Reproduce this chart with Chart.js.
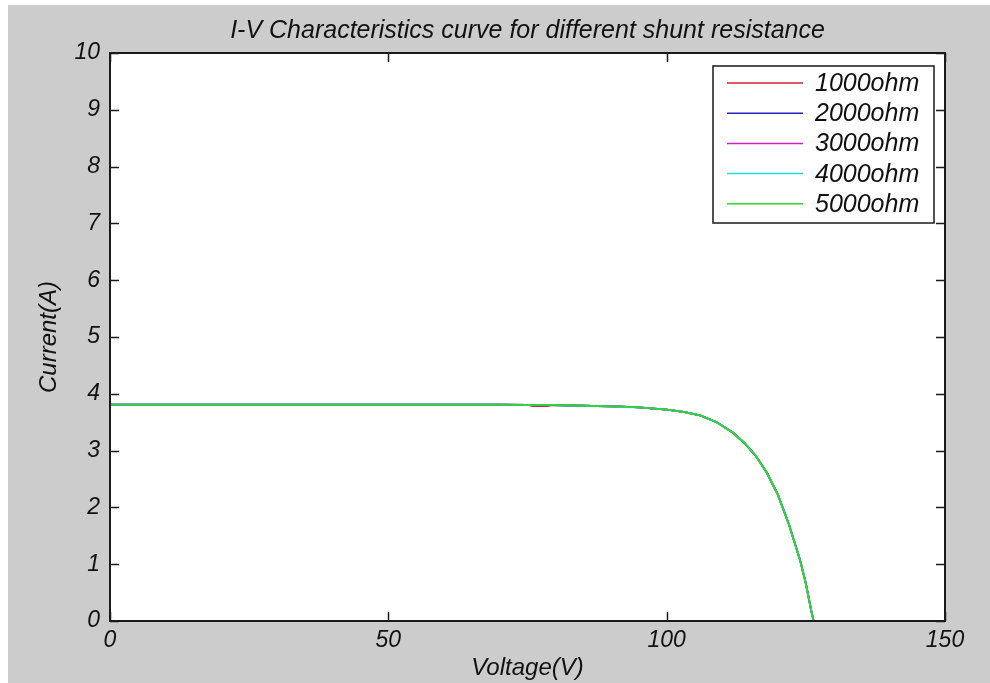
<!DOCTYPE html>
<html>
<head>
<meta charset="utf-8">
<script src="https://cdn.jsdelivr.net/npm/chart.js@4.4.1/dist/chart.umd.min.js"></script>
<style>
  html,body{margin:0;padding:0;background:#fff;}
  #wrap{width:990px;height:683px;}
</style>
</head>
<body>
<div id="wrap"><canvas id="ivChart" width="990" height="683"></canvas></div>
<script>
// ---- Data ----
const chartTitle = 'I-V Characteristics curve for different shunt resistance';
const seriesNames = ['1000ohm','2000ohm','3000ohm','4000ohm','5000ohm'];
const seriesColors = ['#cc2233','#2222c0','#cc22cc','#22dddd','#2fd62f'];
const xTicks = [0,50,100,150];
const yTicks = [0,1,2,3,4,5,6,7,8,9,10];

const voltage  = [0,10,20,30,40,50,60,70,75,76,78.5,79.5,85,90,92,95,100,103,106,109,112,114,116,118,120,122,124,125,126,126.4];
const i1000ohm = [3.81,3.81,3.81,3.81,3.81,3.81,3.81,3.81,3.805,3.785,3.785,3.80,3.79,3.78,3.775,3.76,3.72,3.68,3.62,3.50,3.31,3.13,2.91,2.61,2.22,1.69,1.06,0.66,0.17,0];
const i2000ohm = [3.81,3.81,3.81,3.81,3.81,3.81,3.81,3.81,3.805,3.80,3.80,3.80,3.79,3.78,3.775,3.76,3.72,3.68,3.62,3.50,3.31,3.13,2.91,2.61,2.22,1.69,1.06,0.66,0.17,0];
const i3000ohm = [3.81,3.81,3.81,3.81,3.81,3.81,3.81,3.81,3.805,3.80,3.80,3.80,3.79,3.78,3.775,3.76,3.72,3.68,3.62,3.50,3.31,3.13,2.91,2.61,2.22,1.69,1.06,0.66,0.17,0];
const i4000ohm = [3.81,3.81,3.81,3.81,3.81,3.81,3.81,3.81,3.805,3.80,3.80,3.80,3.79,3.78,3.765,3.76,3.72,3.68,3.62,3.50,3.31,3.13,2.91,2.61,2.22,1.69,1.06,0.66,0.17,0];
const i5000ohm = [3.81,3.81,3.81,3.81,3.81,3.81,3.81,3.81,3.805,3.80,3.80,3.80,3.79,3.78,3.775,3.76,3.72,3.68,3.62,3.50,3.31,3.13,2.91,2.61,2.22,1.69,1.06,0.66,0.17,0];
const currents = [i1000ohm,i2000ohm,i3000ohm,i4000ohm,i5000ohm];

const FONT = "'Liberation Sans', Arial, Helvetica, sans-serif";

// ---- Figure background, axes box, inward ticks, title, legend ----
const figurePlugin = {
  id:'figure',
  beforeDraw(chart){
    const c = chart.ctx;
    c.save();
    c.fillStyle = '#fff';
    c.fillRect(0,0,chart.width,chart.height);
    c.fillStyle = '#cccccc';
    c.fillRect(8,5,chart.width-8,chart.height-5);
    const a = chart.chartArea;
    c.fillStyle = '#fff';
    c.fillRect(a.left,a.top,a.right-a.left,a.bottom-a.top);
    c.restore();
  },
  afterDraw(chart){
    const c = chart.ctx, a = chart.chartArea;
    const xs = chart.scales.x, ys = chart.scales.y;
    const tl = 9;
    c.save();
    c.strokeStyle = '#1a1a1a';
    c.lineWidth = 1.5;
    c.beginPath();
    xTicks.forEach(v=>{
      const px = Math.round(xs.getPixelForValue(v))+0.5;
      c.moveTo(px,a.bottom); c.lineTo(px,a.bottom-tl);
      c.moveTo(px,a.top); c.lineTo(px,a.top+tl);
    });
    yTicks.forEach(v=>{
      const py = Math.round(ys.getPixelForValue(v))+0.5;
      c.moveTo(a.left,py); c.lineTo(a.left+tl,py);
      c.moveTo(a.right,py); c.lineTo(a.right-tl,py);
    });
    c.stroke();
    c.lineWidth = 2;
    c.strokeRect(a.left,a.top,a.right-a.left,a.bottom-a.top);

    // title
    c.fillStyle = '#111';
    c.font = 'italic 25px '+FONT;
    c.textAlign = 'center';
    c.textBaseline = 'middle';
    c.fillText(chartTitle,(a.left+a.right)/2,31);

    // legend
    const lx = 713, ly = 66, lw = 221, lh = 157;
    c.fillStyle = '#fff';
    c.fillRect(lx,ly,lw,lh);
    c.lineWidth = 1.5;
    c.strokeStyle = '#1a1a1a';
    c.strokeRect(lx,ly,lw,lh);
    c.textAlign = 'left';
    chart.data.datasets.forEach((ds,i)=>{
      const y = 83 + i*30.2;
      c.strokeStyle = ds.borderColor;
      c.lineWidth = 1.5;
      c.beginPath(); c.moveTo(727,y); c.lineTo(803,y); c.stroke();
      c.fillStyle = '#111';
      c.fillText(ds.label,815,y+1);
    });
    c.restore();
  }
};

// ---- Chart ----
const datasets = seriesNames.map((name,k)=>({
  label:name,
  data:voltage.map((v,i)=>({x:v,y:currents[k][i]})),
  borderColor:seriesColors[k],
  borderWidth:1.8,
  pointRadius:0,
  tension:0,
  fill:false,
  order:seriesNames.length-k
}));

new Chart(document.getElementById('ivChart'),{
  type:'line',
  data:{datasets},
  options:{
    responsive:false,
    animation:false,
    devicePixelRatio:1,
    layout:{padding:{left:0,right:45,top:53,bottom:0}},
    plugins:{legend:{display:false},title:{display:false},tooltip:{enabled:false}},
    scales:{
      x:{
        type:'linear',min:0,max:150,
        afterBuildTicks:s=>{s.ticks = xTicks.map(v=>({value:v}));},
        afterFit:s=>{s.height = 62;},
        grid:{display:false,drawTicks:false},
        border:{display:false},
        ticks:{padding:6,color:'#111',maxRotation:0,font:{family:FONT,size:23,style:'italic'}},
        title:{display:true,text:'Voltage(V)',color:'#111',padding:{top:0,bottom:0},font:{family:FONT,size:24,style:'italic'}}
      },
      y:{
        type:'linear',min:0,max:10,
        afterBuildTicks:s=>{s.ticks = yTicks.map(v=>({value:v}));},
        afterFit:s=>{s.width = 110;},
        grid:{display:false,drawTicks:false},
        border:{display:false},
        ticks:{padding:10,color:'#111',font:{family:FONT,size:23,style:'italic'}},
        title:{display:true,text:'Current(A)',color:'#111',padding:{top:35,bottom:0},font:{family:FONT,size:24,style:'italic'}}
      }
    }
  },
  plugins:[figurePlugin]
});
</script>
</body>
</html>
